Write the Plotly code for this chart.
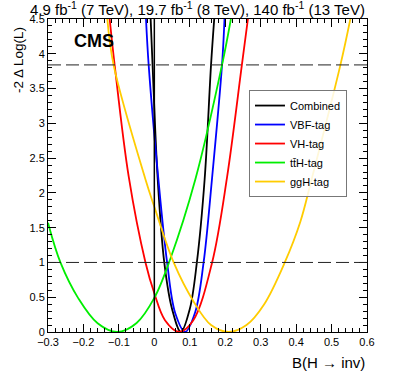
import plotly.graph_objects as go

# points
combined_x = [-0.0104, -0.005, 0.0095, 0.028, 0.05, 0.075, 0.10, 0.12, 0.142, 0.160, 0.169]
combined_y = [4.5, 3.84, 2.2, 1.0, 0.33, 0.0, 0.33, 1.0, 2.2, 3.84, 4.5]

vbf_x = [-0.0235, -0.016, 0.011, 0.036, 0.059, 0.087, 0.115, 0.139, 0.163, 0.191, 0.198]
vbf_y = [4.5, 3.84, 2.22, 1.0, 0.27, 0.0, 0.28, 1.0, 2.22, 3.84, 4.5]

vh_x = [-0.126, -0.112, -0.0725, -0.025, 0.0, 0.03, 0.07, 0.11, 0.163, 0.205, 0.247, 0.264]
vh_y = [4.5, 3.84, 2.24, 1.0, 0.556, 0.17, 0.0, 0.17, 1.0, 2.22, 3.84, 4.5]

tth_x = [-0.3, -0.265, -0.214, -0.16, -0.105, -0.05, 0.0, 0.045, 0.116, 0.191, 0.216]
tth_y = [1.57, 1.0, 0.48, 0.125, 0.0, 0.13, 0.49, 1.05, 2.2, 3.84, 4.5]

ggh_x = [-0.1326, -0.115, -0.0254, 0.0, 0.0545, 0.111, 0.16, 0.21, 0.26, 0.31, 0.368, 0.412, 0.442, 0.525, 0.553]
ggh_y = [4.5, 3.84, 2.2, 1.80, 1.0, 0.436, 0.1, 0.0, 0.1, 0.4, 1.0, 1.586, 2.16, 3.84, 4.5]

names = ['Combined', 'VBF-tag', 'VH-tag', 't\u0074\u0304H-tag', 'ggH-tag']
colors = ['#000000', '#0000ff', '#ff0000', '#00ee00', '#ffcc00']

x_ticks = [-0.3, -0.2, -0.1, 0, 0.1, 0.2, 0.3, 0.4, 0.5, 0.6]
x_labels = ['\u22120.3', '\u22120.2', '\u22120.1', '0', '0.1', '0.2', '0.3', '0.4', '0.5', '0.6']
y_ticks = [0, 0.5, 1, 1.5, 2, 2.5, 3, 3.5, 4, 4.5]
y_labels = ['0', '0.5', '1', '1.5', '2', '2.5', '3', '3.5', '4', '4.5']

font = 'Liberation Sans, Arial, sans-serif'

fig = go.Figure()
series = [(combined_x, combined_y), (vbf_x, vbf_y), (vh_x, vh_y), (tth_x, tth_y), (ggh_x, ggh_y)]
for (xs, ys), name, c in zip(series, names, colors):
    fig.add_trace(go.Scatter(x=xs, y=ys, mode='lines', name=name,
                             line=dict(color=c, width=1.8, shape='spline', smoothing=1)))

fig.add_vline(x=0, line=dict(color='black', width=1.5))
for lvl in [1, 3.84]:
    fig.add_hline(y=lvl, line=dict(color='#222222', width=1, dash='13px,5px'))

axis_common = dict(showline=True, linecolor='black', linewidth=1, mirror='ticks',
                   ticks='inside', ticklen=8, tickcolor='black', showgrid=False, zeroline=False,
                   tickfont=dict(family=font, size=11, color='black'))
fig.update_xaxes(range=[-0.3, 0.6], tickvals=x_ticks, ticktext=x_labels,
                 minor=dict(ticks='inside', dtick=0.02, tick0=0, ticklen=4, tickcolor='black'),
                 **axis_common)
fig.update_yaxes(range=[0, 4.5], tickvals=y_ticks, ticktext=y_labels,
                 minor=dict(ticks='inside', dtick=0.1, tick0=0, ticklen=4, tickcolor='black'),
                 **axis_common)

fig.add_annotation(text='4.9 fb<sup>-1</sup> (7 TeV), 19.7 fb<sup>-1</sup> (8 TeV), 140 fb<sup>-1</sup> (13 TeV)',
                   xref='paper', yref='paper', x=1, y=1, xanchor='right', yanchor='bottom', yshift=-1,
                   showarrow=False, font=dict(family=font, size=15, color='black'))
fig.add_annotation(text='<b>CMS</b>', xref='paper', yref='paper', x=0.075, y=0.93,
                   xanchor='left', yanchor='middle', showarrow=False,
                   font=dict(family=font, size=18, color='black'))
fig.add_annotation(text='B(H \u2192 inv)', xref='paper', yref='paper', x=1, y=0,
                   xanchor='right', yanchor='top', yshift=-20, showarrow=False,
                   font=dict(family=font, size=15, color='black'))
fig.add_annotation(text='-2 \u0394 Log(L)', xref='paper', yref='paper', x=0, y=1,
                   xanchor='center', yanchor='top', xshift=-30, yshift=-6, textangle=-90,
                   showarrow=False, font=dict(family=font, size=13.5, color='black'))

fig.update_layout(
    width=399, height=391,
    margin=dict(l=48, r=32, t=19, b=59),
    plot_bgcolor='white', paper_bgcolor='white',
    font=dict(family=font, color='black'),
    showlegend=True,
    legend=dict(x=0.63, y=0.773, xanchor='left', yanchor='top',
                bgcolor='rgba(255,255,255,0.85)', bordercolor='#777777', borderwidth=1,
                font=dict(family=font, size=11, color='black')),
)

# the page body has a default 8px margin; drop it so the figure sits at the window corner
fig.write_html('out.html', config={'displayModeBar': False},
               post_script="document.body.style.margin='0px';")
